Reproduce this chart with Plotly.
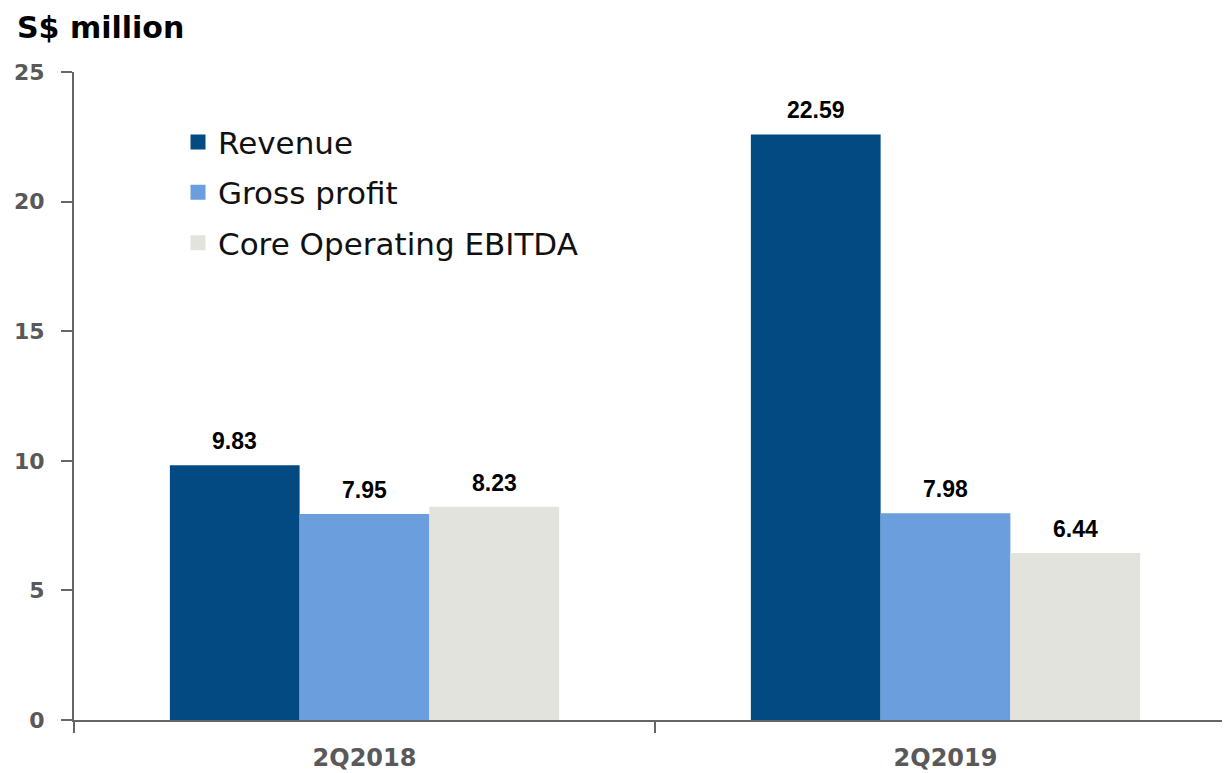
import plotly.graph_objects as go

categories = ["2Q2018", "2Q2019"]
revenue = [9.83, 22.59]
gross_profit = [7.95, 7.98]
core_ebitda = [8.23, 6.44]
series_names = ["Revenue", "Gross profit", "Core Operating EBITDA"]
colors = ["#034A83", "#6A9EDC", "#E1E3DC"]
y_ticks = [0, 5, 10, 15, 20, 25]

# page body has an 8px margin in the browser; compensate
W, H = 1230, 773
ML, MR, MT, MB = 66, 2, 64, 61
XR = [-0.5, 1.5]
BARGAP = 0.33
plot_w = W - ML - MR
plot_h = H - MT - MB
bar_px = plot_w / (XR[1] - XR[0]) * (1 - BARGAP) / 3

fig = go.Figure()
all_vals = [revenue, gross_profit, core_ebitda]
for i, (name, vals, col) in enumerate(zip(series_names, all_vals, colors)):
    fig.add_trace(go.Bar(
        name=name, x=categories, y=vals, marker=dict(color=col, line=dict(width=0)),
        showlegend=False,
    ))
    fig.add_trace(go.Scatter(
        name=name, x=[None], y=[None], mode="markers", legendgroup=name,
        marker=dict(symbol="square", size=15, color=col), showlegend=True,
    ))
    for c, v in zip(categories, vals):
        fig.add_annotation(
            x=c, y=v, xref="x", yref="y", text=f"<b>{v:.2f}</b>", showarrow=False,
            xshift=(i - 1) * bar_px, yshift=24, yanchor="middle",
            font=dict(family="Liberation Sans", size=23, color="#000000"),
        )

fig.add_annotation(text="<b>S$ million</b>", xref="paper", yref="paper",
                   x=-(ML - 7) / plot_w, y=1 + (MT - 19) / plot_h,
                   xanchor="left", yanchor="middle", showarrow=False,
                   font=dict(family="DejaVu Sans", size=30, color="#000000"))

fig.update_layout(
    width=W, height=H,
    barmode="group", bargap=BARGAP, bargroupgap=0,
    plot_bgcolor="white", paper_bgcolor="white",
    margin=dict(l=ML, r=MR, t=MT, b=MB, autoexpand=False),
    font=dict(family="DejaVu Sans"),
    legend=dict(x=(170 - ML) / plot_w, y=0.933, xanchor="left", yanchor="top",
                font=dict(family="DejaVu Sans", size=31, color="#111111"),
                bgcolor="rgba(0,0,0,0)", tracegroupgap=7, itemwidth=30,
                traceorder="grouped"),
)
fig.update_xaxes(
    range=XR, showline=True, linecolor="#666666", linewidth=2,
    ticks="outside", ticklen=11, tickcolor="#666666", tickwidth=2,
    tickson="boundaries", automargin=False, ticklabelstandoff=15,
    tickfont=dict(family="DejaVu Sans", size=24, color="#595959", weight="bold"),
    showgrid=False,
)
fig.update_yaxes(
    range=[0, 25], tickvals=y_ticks, showline=True, linecolor="#666666", linewidth=2,
    ticks="outside", ticklen=11, tickcolor="#666666", tickwidth=2,
    automargin=False, ticklabelstandoff=12,
    tickfont=dict(family="DejaVu Sans", size=22, color="#595959", weight="bold"),
    showgrid=False, zeroline=False,
)
fig.write_html("out.html")
